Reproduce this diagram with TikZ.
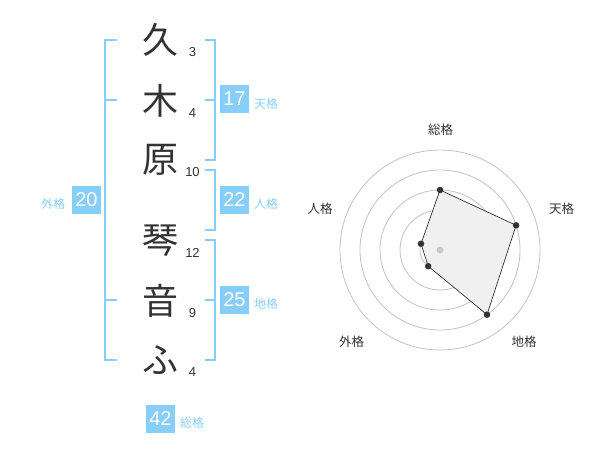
\documentclass[tikz,border=0pt]{standalone}
\usepackage{fontspec}
\setmainfont{Liberation Sans}
\newfontfamily\jp{Noto Sans CJK JP}
\definecolor{sky}{HTML}{87CEFA}
\definecolor{ink}{HTML}{333333}
\begin{document}
\begin{tikzpicture}[x=1pt,y=-1pt,
  kanji/.style={font=\jp\fontsize{36}{36}\selectfont, text=ink, inner sep=0},
  strokes/.style={font=\fontsize{13}{13}\selectfont, text=ink, inner sep=0},
  valbox/.style={fill=sky, text=white, minimum width=29pt, minimum height=28pt, inner sep=0, font=\fontsize{20}{20}\selectfont},
  vallabel/.style={font=\jp\fontsize{12}{12}\selectfont, text=sky, inner sep=0},
  brk/.style={draw=sky, line width=2pt},
  ring/.style={draw=black!24, line width=0.8pt},
  axlabel/.style={font=\jp\fontsize{12.5}{12.5}\selectfont, text=ink, inner sep=0},
  vdot/.style={circle, fill=ink, inner sep=0, minimum size=6.5pt},
]
\useasboundingbox (0,0) rectangle (600,470);

% characters
\node[kanji] (k1) at (160,40) {久};
\node[kanji] (k2) at (160,101) {木};
\node[kanji] (k3) at (160,160) {原};
\node[kanji] (k4) at (160,241) {琴};
\node[kanji] (k5) at (160,301) {音};
\node[kanji] (k6) at (160,360) {ふ};

% stroke counts
\node[strokes] (s1) at (192.5,52.5) {3};
\node[strokes] (s2) at (192.5,113.5) {4};
\node[strokes] (s3) at (192.5,172.5) {10};
\node[strokes] (s4) at (192.5,252.5) {12};
\node[strokes] (s5) at (192.5,313.5) {9};
\node[strokes] (s6) at (192.5,372.5) {4};

% brackets
\draw[brk] (116.5,40) -- (105,40) -- (105,360) -- (116.5,360);
\draw[brk] (105,100) -- (116.5,100);
\draw[brk] (105,300) -- (116.5,300);
\draw[brk] (205,40) -- (214.5,40) -- (214.5,160) -- (205,160);
\draw[brk] (205,100) -- (214.5,100);
\draw[brk] (205,170) -- (214.5,170) -- (214.5,230) -- (205,230);
\draw[brk] (205,240) -- (214.5,240) -- (214.5,360) -- (205,360);
\draw[brk] (205,300) -- (214.5,300);

% values
\node[valbox] (b1) at (234.5,99) {17};
\node[vallabel] (l1) at (266,103.5) {天格};
\node[valbox] (b2) at (234.5,200) {22};
\node[vallabel] (l2) at (266,204) {人格};
\node[valbox] (b3) at (234.5,300) {25};
\node[vallabel] (l3) at (266,304) {地格};
\node[valbox] (b4) at (86.5,200) {20};
\node[vallabel] (l4) at (53.5,204) {外格};
\node[valbox] (b5) at (160.5,419) {42};
\node[vallabel] (l5) at (192,423) {総格};

% radar
\coordinate (c) at (440,250);
\foreach \r in {20,40,60,80,100} \draw[ring] (c) circle[radius=\r];
\coordinate (p1) at (440,190);
\coordinate (p2) at (516.1,225.3);
\coordinate (p3) at (487.0,314.7);
\coordinate (p4) at (428.2,266.2);
\coordinate (p5) at (421.0,243.8);
\filldraw[fill=black!6, draw=ink, line width=0.7pt] (p1) -- (p2) -- (p3) -- (p4) -- (p5) -- cycle;
\node[circle, fill=black!22, inner sep=0, minimum size=7pt] (cd) at (c) {};
\foreach \p in {p1,p2,p3,p4,p5} \node[vdot] at (\p) {};
\node[axlabel] (a1) at (440.5,130) {総格};
\node[axlabel] (a2) at (561.5,208.5) {天格};
\node[axlabel] (a3) at (524,341.5) {地格};
\node[axlabel] (a4) at (351.5,341.5) {外格};
\node[axlabel] (a5) at (320,208.5) {人格};
\end{tikzpicture}
\end{document}
